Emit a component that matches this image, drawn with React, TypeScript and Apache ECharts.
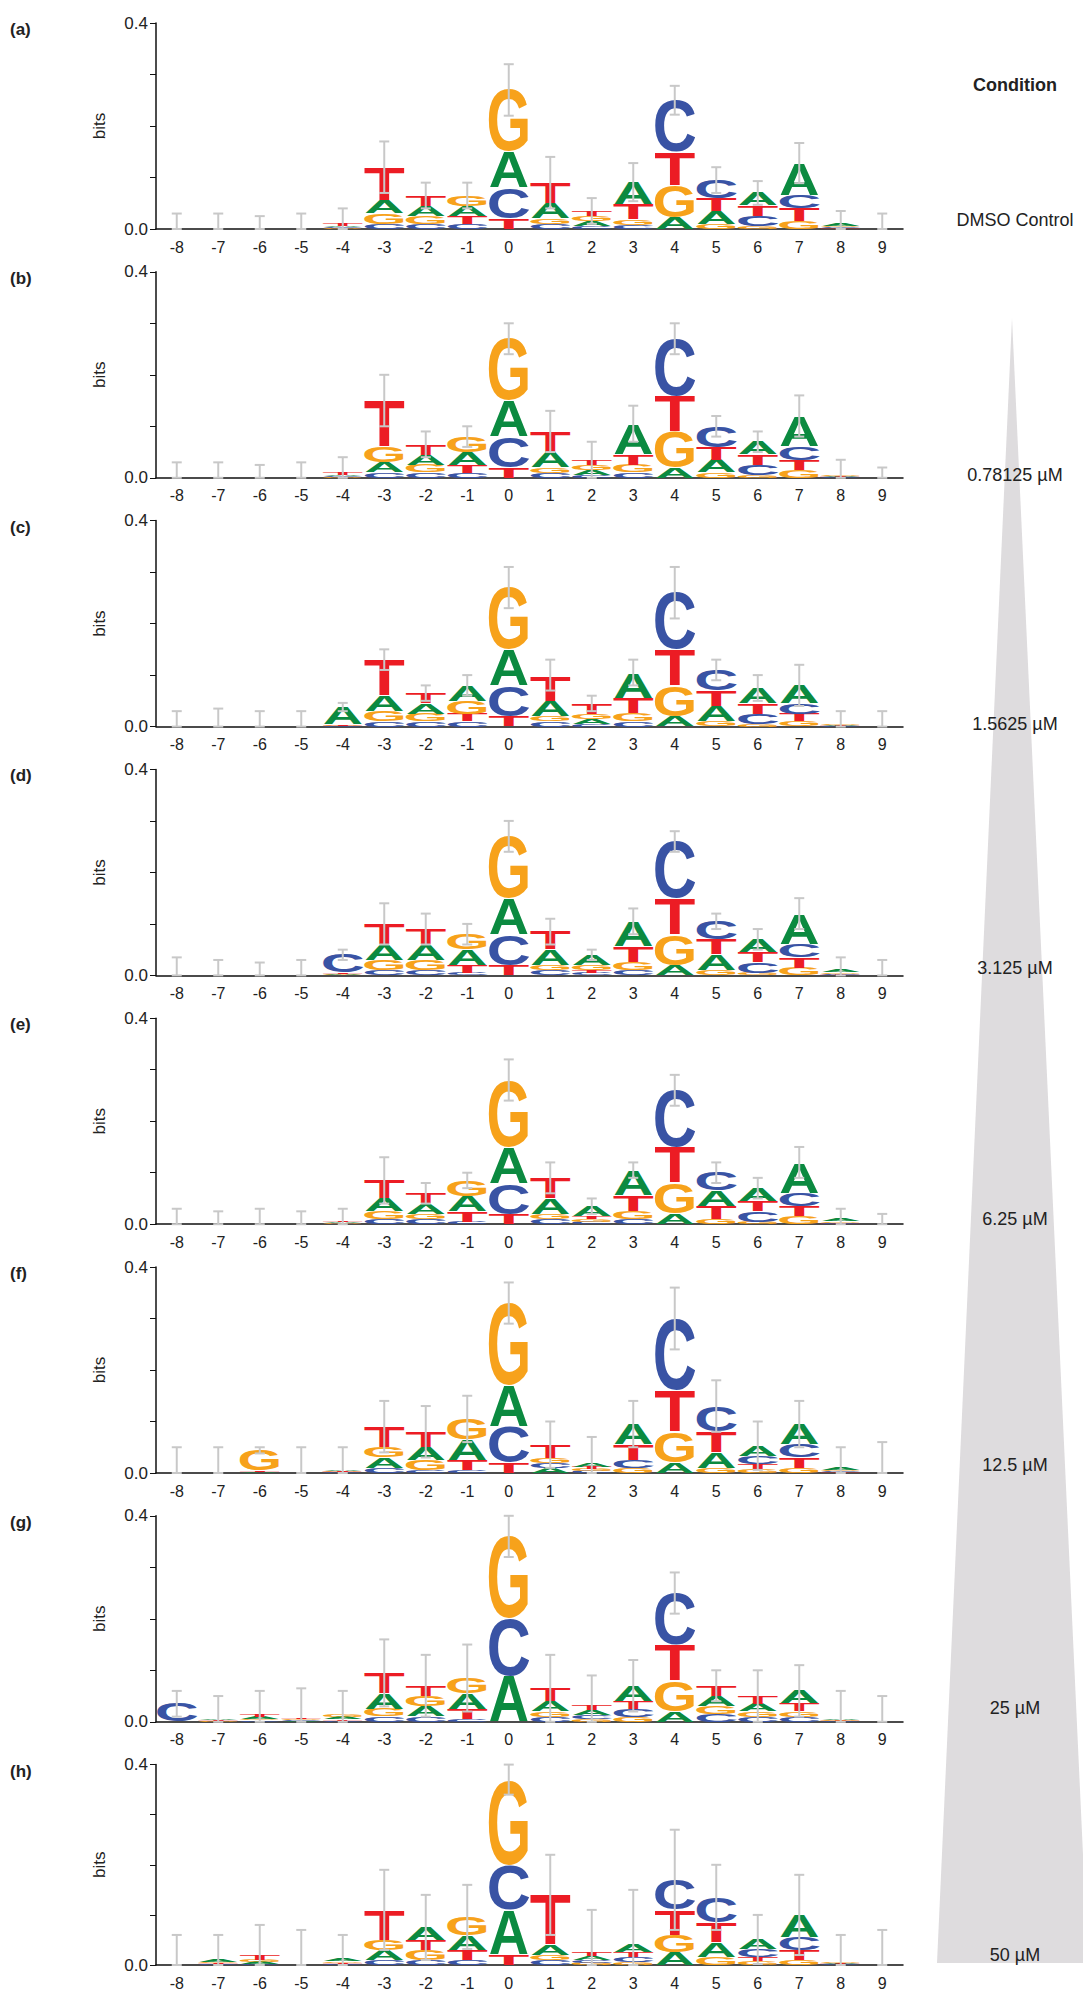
import React, { useEffect, useRef } from 'react';
import * as echarts from 'echarts';

const positions = ['-8', '-7', '-6', '-5', '-4', '-3', '-2', '-1', '0', '1', '2', '3', '4', '5', '6', '7', '8', '9'];
const panelLabels = ['(a)', '(b)', '(c)', '(d)', '(e)', '(f)', '(g)', '(h)'];
const conditions = ['DMSO Control', '0.78125 µM', '1.5625 µM', '3.125 µM', '6.25 µM', '12.5 µM', '25 µM', '50 µM'];

// information content per base (bits), one row per panel, positions -8..9
const A_bits = [
  [0, 0, 0, 0, 0.003, 0.025, 0.02, 0.02, 0.07, 0.03, 0.01, 0.043, 0.023, 0.025, 0.025, 0.062, 0.004, 0],
  [0, 0, 0, 0, 0.003, 0.02, 0.02, 0.025, 0.07, 0.03, 0.01, 0.06, 0.02, 0.025, 0.025, 0.06, 0.002, 0],
  [0, 0, 0, 0, 0.034, 0.03, 0.02, 0.03, 0.07, 0.03, 0.01, 0.05, 0.02, 0.03, 0.03, 0.035, 0.002, 0],
  [0, 0, 0, 0, 0.002, 0.03, 0.03, 0.03, 0.07, 0.03, 0.02, 0.05, 0.02, 0.03, 0.025, 0.06, 0.004, 0],
  [0, 0, 0, 0, 0.002, 0.025, 0.02, 0.03, 0.07, 0.03, 0.02, 0.05, 0.02, 0.03, 0.025, 0.06, 0.005, 0],
  [0, 0, 0.002, 0, 0.002, 0.02, 0.025, 0.04, 0.08, 0.01, 0.008, 0.04, 0.02, 0.03, 0.02, 0.04, 0.005, 0],
  [0, 0.003, 0.004, 0.002, 0.004, 0.03, 0.02, 0.03, 0.09, 0.02, 0.01, 0.03, 0.02, 0.02, 0.015, 0.025, 0.003, 0],
  [0, 0.004, 0.004, 0, 0.004, 0.02, 0.025, 0.03, 0.09, 0.02, 0.008, 0.015, 0.025, 0.03, 0.02, 0.045, 0.002, 0],
];
const C_bits = [
  [0, 0, 0, 0, 0.002, 0.01, 0.01, 0.01, 0.06, 0.01, 0.005, 0.008, 0.1, 0.035, 0.02, 0.026, 0.002, 0],
  [0, 0, 0, 0, 0.002, 0.01, 0.01, 0.01, 0.06, 0.01, 0.005, 0.01, 0.11, 0.04, 0.02, 0.025, 0.001, 0],
  [0, 0, 0, 0, 0.001, 0.01, 0.01, 0.01, 0.06, 0.01, 0.005, 0.01, 0.11, 0.04, 0.02, 0.02, 0.001, 0],
  [0, 0, 0, 0, 0.035, 0.01, 0.01, 0.005, 0.06, 0.01, 0.005, 0.01, 0.11, 0.035, 0.02, 0.025, 0.002, 0],
  [0, 0, 0, 0, 0.001, 0.01, 0.01, 0.005, 0.06, 0.01, 0.005, 0.01, 0.11, 0.035, 0.02, 0.025, 0.002, 0],
  [0, 0, 0, 0, 0.001, 0.01, 0.005, 0.005, 0.07, 0.01, 0.004, 0.015, 0.14, 0.05, 0.015, 0.025, 0.002, 0],
  [0.035, 0, 0.003, 0.002, 0.002, 0.01, 0.01, 0.005, 0.11, 0.01, 0.008, 0.015, 0.1, 0.015, 0.01, 0.01, 0.001, 0],
  [0, 0.001, 0.002, 0, 0.002, 0.01, 0.01, 0.01, 0.09, 0.01, 0.005, 0.01, 0.06, 0.05, 0.015, 0.025, 0.001, 0],
];
const G_bits = [
  [0, 0, 0, 0, 0.001, 0.02, 0.015, 0.02, 0.12, 0.01, 0.01, 0.01, 0.062, 0.01, 0.005, 0.015, 0.002, 0],
  [0, 0, 0, 0, 0.001, 0.03, 0.015, 0.03, 0.12, 0.01, 0.01, 0.015, 0.07, 0.01, 0.005, 0.015, 0.002, 0],
  [0, 0, 0, 0, 0.001, 0.02, 0.015, 0.025, 0.12, 0.01, 0.01, 0.015, 0.06, 0.01, 0.005, 0.01, 0.002, 0],
  [0, 0, 0, 0, 0.001, 0.02, 0.02, 0.03, 0.12, 0.01, 0.01, 0.015, 0.06, 0.01, 0.005, 0.015, 0.003, 0],
  [0, 0, 0, 0, 0.001, 0.015, 0.01, 0.03, 0.13, 0.01, 0.005, 0.015, 0.06, 0.01, 0.005, 0.015, 0.003, 0],
  [0, 0, 0.04, 0, 0.001, 0.02, 0.02, 0.04, 0.16, 0.01, 0.004, 0.01, 0.06, 0.01, 0.008, 0.01, 0.003, 0],
  [0, 0.002, 0.003, 0.002, 0.004, 0.015, 0.02, 0.03, 0.16, 0.01, 0.005, 0.01, 0.06, 0.015, 0.01, 0.01, 0.002, 0],
  [0, 0.003, 0.004, 0, 0.003, 0.02, 0.02, 0.036, 0.17, 0.01, 0.004, 0.005, 0.035, 0.015, 0.008, 0.01, 0.002, 0],
];
const T_bits = [
  [0, 0, 0, 0, 0.004, 0.065, 0.02, 0.015, 0.02, 0.04, 0.01, 0.03, 0.065, 0.025, 0.02, 0.025, 0.001, 0],
  [0, 0, 0, 0, 0.004, 0.09, 0.02, 0.015, 0.02, 0.04, 0.01, 0.02, 0.07, 0.025, 0.02, 0.02, 0.001, 0],
  [0, 0, 0, 0, 0.002, 0.07, 0.02, 0.015, 0.02, 0.05, 0.02, 0.03, 0.07, 0.03, 0.02, 0.015, 0.001, 0],
  [0, 0, 0, 0, 0.002, 0.04, 0.03, 0.015, 0.02, 0.035, 0.005, 0.03, 0.07, 0.03, 0.02, 0.02, 0.001, 0],
  [0, 0, 0, 0, 0.002, 0.035, 0.02, 0.02, 0.02, 0.04, 0.005, 0.03, 0.07, 0.025, 0.02, 0.02, 0.001, 0],
  [0, 0, 0.002, 0, 0.001, 0.04, 0.03, 0.02, 0.02, 0.025, 0.004, 0.03, 0.08, 0.04, 0.01, 0.02, 0.001, 0],
  [0, 0.002, 0.004, 0.002, 0.003, 0.04, 0.02, 0.02, 0, 0.025, 0.01, 0.015, 0.07, 0.02, 0.015, 0.015, 0.001, 0],
  [0, 0.002, 0.01, 0, 0.002, 0.06, 0.02, 0.02, 0.02, 0.1, 0.008, 0.01, 0.05, 0.04, 0.008, 0.02, 0.001, 0],
];
// upper end of the error bar (bits)
const err_top = [
  [0.03, 0.03, 0.025, 0.03, 0.04, 0.17, 0.09, 0.09, 0.32, 0.14, 0.06, 0.128, 0.278, 0.12, 0.093, 0.167, 0.035, 0.03],
  [0.03, 0.03, 0.025, 0.03, 0.04, 0.2, 0.09, 0.1, 0.3, 0.13, 0.07, 0.14, 0.3, 0.12, 0.09, 0.16, 0.035, 0.02],
  [0.03, 0.035, 0.03, 0.03, 0.03, 0.15, 0.08, 0.1, 0.31, 0.13, 0.06, 0.13, 0.31, 0.13, 0.1, 0.12, 0.03, 0.03],
  [0.035, 0.03, 0.025, 0.03, 0.03, 0.14, 0.12, 0.1, 0.3, 0.11, 0.05, 0.13, 0.28, 0.12, 0.09, 0.15, 0.035, 0.03],
  [0.03, 0.025, 0.03, 0.025, 0.03, 0.13, 0.08, 0.1, 0.32, 0.12, 0.05, 0.12, 0.29, 0.12, 0.09, 0.15, 0.03, 0.02],
  [0.05, 0.05, 0.05, 0.05, 0.05, 0.14, 0.13, 0.15, 0.37, 0.1, 0.07, 0.14, 0.36, 0.18, 0.1, 0.14, 0.05, 0.06],
  [0.06, 0.05, 0.06, 0.065, 0.06, 0.16, 0.13, 0.15, 0.4, 0.13, 0.09, 0.12, 0.29, 0.1, 0.1, 0.11, 0.06, 0.05],
  [0.06, 0.06, 0.08, 0.07, 0.06, 0.19, 0.14, 0.16, 0.4, 0.22, 0.11, 0.15, 0.27, 0.2, 0.1, 0.18, 0.06, 0.07],
];

const baseColors: Record<string, string> = { A: '#0b8a40', C: '#3953a4', G: '#f7a21b', T: '#ec1c24' };
// glyph ink widths of bold Liberation Sans, em units
const glyphWidth: Record<string, number> = { A: 0.7, C: 0.64, G: 0.68, T: 0.58 };
const FONT_PX = 100;

const GRID_LEFT = 156;
const GRID_WIDTH = 747;
const GRID_TOP0 = 23;
const GRID_STEP = 248.8;
const GRID_HEIGHT = 206;

const App: React.FC = () => {
  const chartRef = useRef<HTMLDivElement | null>(null);

  useEffect(() => {
    if (!chartRef.current) return;
    const myChart = echarts.init(chartRef.current, undefined, { renderer: 'svg' });

    const grids: any[] = [];
    const xAxes: any[] = [];
    const yAxes: any[] = [];
    const series: any[] = [];
    const graphics: any[] = [];

    panelLabels.forEach((label, p) => {
      const top = GRID_TOP0 + p * GRID_STEP;
      grids.push({ left: GRID_LEFT, top, width: GRID_WIDTH, height: GRID_HEIGHT });
      xAxes.push({
        type: 'category',
        gridIndex: p,
        data: positions,
        axisLine: { lineStyle: { color: '#111', width: 1.5 } },
        axisTick: { alignWithLabel: true, length: 5, lineStyle: { color: '#111' } },
        axisLabel: { color: '#222', fontSize: 16, fontFamily: 'Liberation Sans', margin: 10 },
      });
      yAxes.push({
        type: 'value',
        gridIndex: p,
        min: 0,
        max: 0.4,
        interval: 0.1,
        name: 'bits',
        nameLocation: 'middle',
        nameGap: 48,
        nameTextStyle: { color: '#222', fontSize: 17, fontFamily: 'Liberation Sans' },
        splitLine: { show: false },
        axisLine: { show: true, lineStyle: { color: '#111', width: 1.5 } },
        axisTick: { show: true, length: 6, lineStyle: { color: '#111' } },
        axisLabel: {
          color: '#222',
          fontSize: 17,
          fontFamily: 'Liberation Sans',
          formatter: (v: number) => (v === 0 || Math.abs(v - 0.4) < 1e-9 ? v.toFixed(1) : ''),
        },
      });

      series.push({
        type: 'custom',
        xAxisIndex: p,
        yAxisIndex: p,
        data: positions.map((_, i) => [i]),
        renderItem: (params: any, api: any) => {
          const i = api.value(0);
          const cellW = api.size([1, 0])[0];
          const w = cellW * 0.94;
          const stack = [
            { b: 'A', v: A_bits[p][i] },
            { b: 'C', v: C_bits[p][i] },
            { b: 'G', v: G_bits[p][i] },
            { b: 'T', v: T_bits[p][i] },
          ].sort((a, b) => a.v - b.v);
          const children: any[] = [];
          let cum = 0;
          stack.forEach(({ b, v }) => {
            if (v <= 0) return;
            const p0 = api.coord([i, cum]);
            const p1 = api.coord([i, cum + v]);
            cum += v;
            const h = p0[1] - p1[1];
            if (h < 0.4) return;
            children.push({
              type: 'text',
              x: p0[0],
              y: (p0[1] + p1[1]) / 2,
              scaleX: w / (glyphWidth[b] * FONT_PX),
              scaleY: h / (0.716 * FONT_PX),
              style: {
                text: b,
                fill: baseColors[b],
                font: `bold ${FONT_PX}px "Liberation Sans"`,
                textAlign: 'center',
                textVerticalAlign: 'middle',
              },
            });
          });
          // error bar centred on the top of the stack
          const e = err_top[p][i];
          const lo = Math.max(0, 2 * cum - e);
          const cx = api.coord([i, 0])[0];
          const yHi = api.coord([i, e])[1];
          const yLo = api.coord([i, lo])[1];
          const lineStyle = { stroke: '#c8c8c8', lineWidth: 2 };
          children.push(
            { type: 'line', shape: { x1: cx, y1: yHi, x2: cx, y2: yLo }, style: lineStyle },
            { type: 'line', shape: { x1: cx - 5, y1: yHi, x2: cx + 5, y2: yHi }, style: lineStyle },
            { type: 'line', shape: { x1: cx - 5, y1: yLo, x2: cx + 5, y2: yLo }, style: lineStyle },
          );
          return { type: 'group', children };
        },
      });

      graphics.push({
        type: 'text',
        left: 10,
        top: top - 2,
        style: { text: label, fill: '#222', font: 'bold 17px "Liberation Sans"' },
      });
    });

    // concentration wedge
    graphics.push({
      type: 'polygon',
      z: -1,
      shape: { points: [[1012, 318], [937, 1963], [1088, 1963]] },
      style: { fill: '#dedcde' },
    });
    graphics.push({
      type: 'text',
      x: 1015,
      y: 85,
      style: { text: 'Condition', fill: '#222', font: 'bold 18px "Liberation Sans"', textAlign: 'center', textVerticalAlign: 'middle' },
    });
    const condY = [220, 475, 724, 968, 1219, 1465, 1708, 1955];
    conditions.forEach((c, k) => {
      graphics.push({
        type: 'text',
        x: 1015,
        y: condY[k],
        style: { text: c, fill: '#222', font: '18px "Liberation Sans"', textAlign: 'center', textVerticalAlign: 'middle' },
      });
    });

    myChart.setOption({
      animation: false,
      grid: grids,
      xAxis: xAxes,
      yAxis: yAxes,
      series,
      graphic: graphics,
    });

    return () => {
      myChart.dispose();
    };
  }, []);

  return <div ref={chartRef} style={{ width: 1083, height: 1991, position: 'absolute', left: 0, top: 0, background: '#fff' }}></div>;
};

export default App;
